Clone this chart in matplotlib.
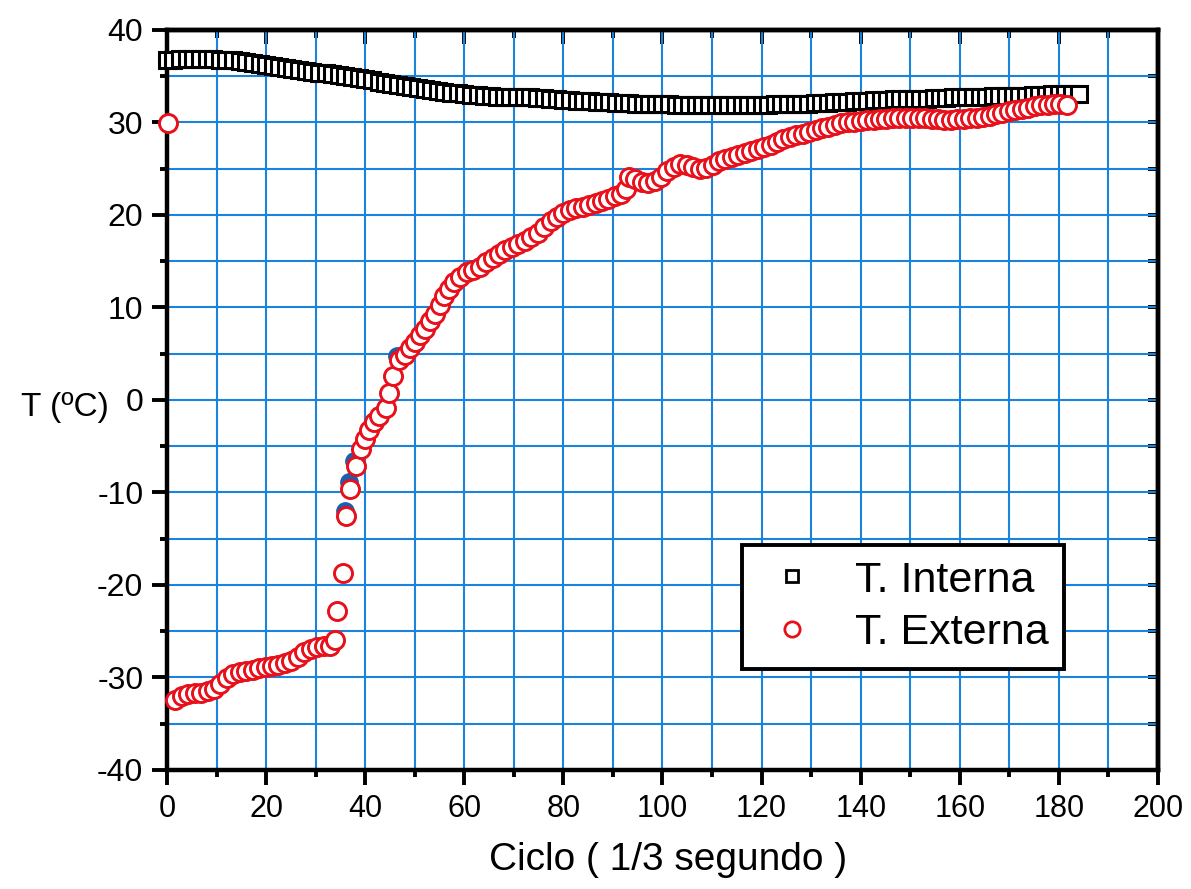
import matplotlib
matplotlib.use('Agg')
from matplotlib import pyplot as plt
from matplotlib.lines import Line2D
from matplotlib.ticker import MultipleLocator

plt.rcParams['font.family'] = ['Liberation Sans', 'DejaVu Sans']
plt.rcParams['axes.unicode_minus'] = False

# T. Interna (squares)
x_interna = [0, 1.3, 2.7, 4, 5.3, 6.7, 8, 9.3, 10.7, 12, 13.3, 14.7, 16, 17.3, 18.7,
             20, 21.3, 22.7, 24, 25.3, 26.7, 28, 29.3, 30.7, 32, 33.3, 34.7, 36, 37.3, 38.7,
             40, 41.3, 42.7, 44, 45.3, 46.7, 48, 49.3, 50.7, 52, 53.3, 54.7, 56, 57.3, 58.7,
             60, 61.3, 62.7, 64, 65.3, 66.7, 68, 69.3, 70.7, 72, 73.3, 74.7, 76, 77.3, 78.7,
             80, 81.3, 82.7, 84, 85.3, 86.7, 88, 89.3, 90.7, 92, 93.3, 94.7, 96, 97.3, 98.7,
             100, 101.3, 102.7, 104, 105.3, 106.7, 108, 109.3, 110.7, 112, 113.3, 114.7,
             116, 117.3, 118.7, 120, 121.3, 122.7, 124, 125.3, 126.7, 128, 129.3, 130.7,
             132, 133.3, 134.7, 136, 137.3, 138.7, 140, 141.3, 142.7, 144, 145.3, 146.7,
             148, 149.3, 150.7, 152, 153.3, 154.7, 156, 157.3, 158.7, 160, 161.3, 162.7,
             164, 165.3, 166.7, 168, 169.3, 170.7, 172, 173.3, 174.7, 176, 177.3, 178.7,
             180, 181.3, 182.7, 184]
t_interna = [36.8, 36.8, 36.9, 36.9, 36.9, 36.9, 36.9, 36.9, 36.8, 36.8, 36.7, 36.6, 36.5, 36.4, 36.3,
             36.2, 36.1, 36.0, 35.9, 35.8, 35.7, 35.6, 35.5, 35.4, 35.3, 35.2, 35.1, 35.0, 34.9, 34.8,
             34.7, 34.6, 34.4, 34.3, 34.2, 34.0, 33.9, 33.8, 33.7, 33.6, 33.5, 33.4, 33.3, 33.2, 33.2,
             33.1, 33.0, 33.0, 32.9, 32.9, 32.8, 32.8, 32.8, 32.7, 32.7, 32.7, 32.6, 32.6, 32.5, 32.5,
             32.4, 32.4, 32.3, 32.3, 32.3, 32.2, 32.2, 32.2, 32.1, 32.1, 32.1, 32.0, 32.0, 32.0, 32.0,
             32.0, 32.0, 31.9, 31.9, 31.9, 31.9, 31.9, 31.9, 31.9, 31.9, 31.9, 31.9,
             31.9, 31.9, 31.9, 31.9, 31.9, 32.0, 32.0, 32.0, 32.0, 32.0, 32.0, 32.1,
             32.1, 32.1, 32.2, 32.2, 32.2, 32.3, 32.3, 32.3, 32.4, 32.4, 32.4, 32.5,
             32.5, 32.5, 32.5, 32.5, 32.5, 32.6, 32.6, 32.6, 32.7, 32.7, 32.7, 32.8,
             32.8, 32.8, 32.9, 32.9, 32.9, 32.9, 32.9, 32.9, 33.0, 33.0, 33.0, 33.1,
             33.1, 33.1, 33.1, 33.1]

# T. Externa (circles)
x_externa = [0.3, 1.7, 3.0, 4.3, 5.6, 6.9, 8.2, 9.5, 10.8, 12.1, 13.4, 14.7, 16.0, 17.3, 18.6,
             19.9, 21.2, 22.5, 23.8, 25.1, 26.4, 27.7, 29.0, 30.3, 31.6, 32.8, 33.9, 34.4, 35.5,
             36.1, 37.0, 38.1, 39.2, 40.0, 40.8, 41.7, 42.7, 44.1, 44.9, 45.7, 46.9, 48.0, 49.0,
             50.0, 51.0, 52.0, 53.0, 54.0, 55.0, 56.0, 57.0, 58.0, 59.2, 60.5, 61.8, 63.1, 64.4,
             65.7, 67.0, 68.3, 69.6, 70.9, 72.2, 73.5, 74.8, 76.1, 77.4, 78.7, 80.0, 81.3, 82.6,
             83.9, 85.2, 86.5, 87.8, 89.1, 90.4, 91.7, 92.6, 93.3, 94.5, 95.8, 97.1, 98.4, 99.7,
             101.0, 102.3, 103.6, 104.9, 106.2, 107.5, 108.8, 110.1, 111.4, 112.7, 114.0, 115.3,
             116.6, 117.9, 119.2, 120.5, 121.8, 123.1, 124.4, 125.7, 127.0, 128.3, 129.6, 130.9,
             132.2, 133.5, 134.8, 136.1, 137.4, 138.7, 140.0, 141.3, 142.6, 143.9, 145.2, 146.5,
             147.8, 149.1, 150.4, 151.7, 153.0, 154.3, 155.6, 156.9, 158.2, 159.5, 160.8, 162.1,
             163.4, 164.7, 166.0, 167.3, 168.6, 169.9, 171.2, 172.5, 173.8, 175.1, 176.4, 177.7,
             179.0, 180.3, 181.6]
t_externa = [29.9, -32.4, -32.0, -31.8, -31.7, -31.7, -31.5, -31.2, -30.7, -30.1, -29.6, -29.4, -29.3, -29.2, -29.0,
             -28.9, -28.8, -28.6, -28.4, -28.2, -27.8, -27.3, -26.9, -26.7, -26.6, -26.6, -25.9, -22.8, -18.7,
             -12.5, -9.6, -7.1, -5.3, -4.2, -3.2, -2.4, -1.7, -0.9, 0.8, 2.6, 4.3, 4.9, 5.6,
             6.3, 7.0, 7.7, 8.5, 9.3, 10.3, 11.2, 12.0, 12.7, 13.3, 13.8, 14.1, 14.4, 14.9,
             15.4, 15.8, 16.2, 16.5, 16.9, 17.2, 17.6, 18.1, 18.7, 19.3, 19.8, 20.2, 20.5, 20.7,
             20.9, 21.1, 21.3, 21.5, 21.7, 22.0, 22.3, 22.8, 24.1, 23.9, 23.6, 23.5, 23.7, 24.1,
             24.7, 25.2, 25.5, 25.4, 25.2, 25.0, 25.1, 25.4, 25.8, 26.1, 26.3, 26.5,
             26.7, 26.9, 27.1, 27.3, 27.6, 27.9, 28.2, 28.4, 28.6, 28.8, 29.0, 29.2,
             29.4, 29.5, 29.7, 29.9, 30.0, 30.1, 30.2, 30.3, 30.3, 30.4, 30.4, 30.5,
             30.5, 30.5, 30.5, 30.5, 30.5, 30.4, 30.4, 30.3, 30.3, 30.4, 30.4, 30.5,
             30.5, 30.6, 30.7, 30.9, 31.0, 31.2, 31.3, 31.5, 31.6, 31.8, 31.9, 31.9,
             32.0, 32.0, 31.9]

# a few blue circles peeking out from under the red ones
x_azul = [35.9, 36.7, 37.8, 46.4]
t_azul = [-12.0, -8.9, -6.6, 4.7]

grid_blue = '#1a84dc'
red = '#e8101a'

fig = plt.figure(figsize=(11.91, 8.89), dpi=100)
ax = fig.add_axes([0.1402, 0.1339, 0.8321, 0.8324])

ax.set_xlim(0, 200)
ax.set_ylim(-40, 40)
ax.xaxis.set_major_locator(MultipleLocator(20))
ax.xaxis.set_minor_locator(MultipleLocator(10))
ax.yaxis.set_major_locator(MultipleLocator(10))
ax.yaxis.set_minor_locator(MultipleLocator(5))
ax.grid(True, which='both', color=grid_blue, lw=1.5)
ax.set_axisbelow(True)

for s in ax.spines.values():
    s.set_linewidth(3.2)
ax.tick_params(which='major', direction='out', length=11, width=2.8,
               labelsize=22, pad=6)
ax.tick_params(which='minor', direction='out', length=5, width=2.8)
ax.tick_params(axis='y', which='major', labelsize=23)

# top / right ticks point inward
top = ax.secondary_xaxis('top')
top.xaxis.set_major_locator(MultipleLocator(20))
top.xaxis.set_minor_locator(MultipleLocator(10))
top.tick_params(which='major', direction='in', length=10, width=2.8, labeltop=False)
top.tick_params(which='minor', direction='in', length=6, width=2.8)
top.spines['top'].set_linewidth(3.2)
right = ax.secondary_yaxis('right')
right.yaxis.set_major_locator(MultipleLocator(10))
right.yaxis.set_minor_locator(MultipleLocator(5))
right.tick_params(which='both', direction='in', length=7, width=2.8, labelright=False)
right.spines['right'].set_linewidth(3.2)

ax.plot(x_interna, t_interna, ls='none', marker='s', ms=12, mfc='white',
        mec='black', mew=2.2, clip_on=False, zorder=4)
ax.plot(x_azul, t_azul, ls='none', marker='o', ms=12.5, mfc='#1a5fb0',
        mec='#1a5fb0', clip_on=False, zorder=5)
ax.plot(x_externa, t_externa, ls='none', marker='o', ms=13, mfc='white',
        mec=red, mew=2.1, clip_on=False, zorder=6)

h1 = Line2D([], [], ls='none', marker='s', ms=8.5, mfc='white', mec='black', mew=2)
h2 = Line2D([], [], ls='none', marker='o', ms=11, mfc='white', mec=red, mew=2)
leg = ax.legend([h1, h2], ['T. Interna', 'T. Externa'], loc='upper left',
                bbox_to_anchor=(0.580, 0.304), borderaxespad=0, fontsize=31,
                frameon=True, fancybox=False, framealpha=1, edgecolor='black',
                handlelength=1.6, handletextpad=0.67, borderpad=0.36,
                labelspacing=0.3)
leg.get_frame().set_linewidth(2.8)
leg.set_zorder(10)

fig.text(668 / 1191, 1 - 860 / 889, 'Ciclo ( 1/3 segundo )', fontsize=28,
         ha='center', va='center')
fig.text(65 / 1191, 1 - 407 / 889, 'T (ºC)', fontsize=24,
         ha='center', va='center')

fig.savefig('out.png', dpi=100)
